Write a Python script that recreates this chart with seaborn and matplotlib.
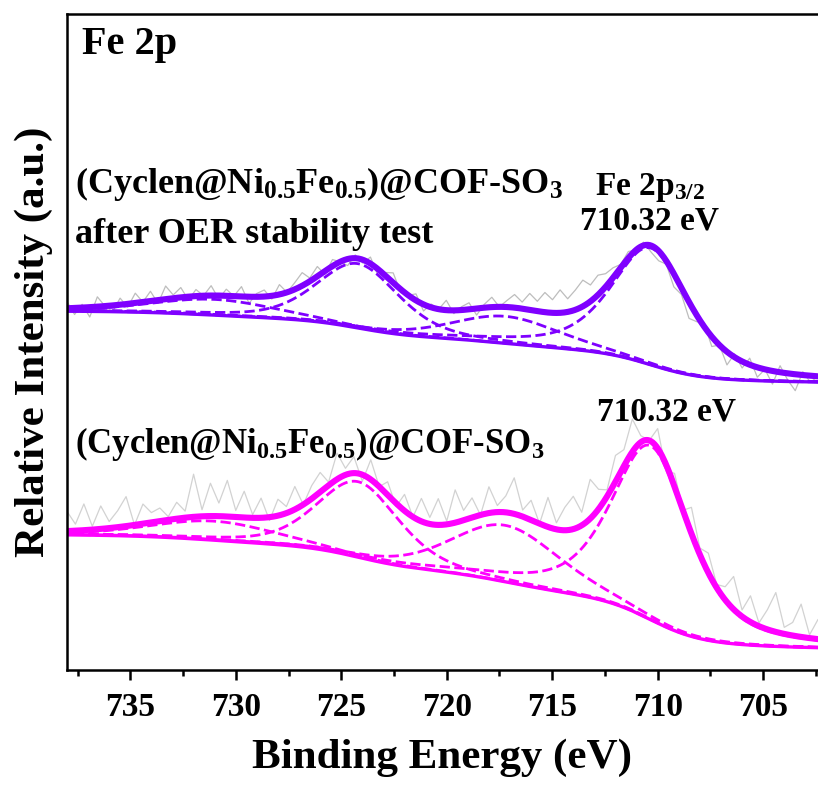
import numpy as np
import matplotlib
matplotlib.use('Agg')
import matplotlib.pyplot as plt
from matplotlib.ticker import AutoMinorLocator
import seaborn as sns

# --- Fe 2p peak fit (binding energy in eV) ---
# components: Fe 2p3/2, satellite, Fe 2p1/2, satellite
peak_centers = [710.32, 717.2, 724.2, 731.0]
peak_fwhm = [4.4, 6.0, 4.6, 7.0]
peak_mix = [0.6, 0.3, 0.4, 0.3]  # lorentzian fraction

# heights above background (arbitrary units, 0-100 frame)
fresh_heights = [26.5, 8.6, 11.5, 2.9]
after_heights = [17.8, 4.1, 9.8, 2.4]

# background level at low-BE end and high-BE end
fresh_bg = [3.4, 20.6]
after_bg = [43.9, 54.7]

# residual of the raw counts around the fit (estimated, high BE -> low BE)
fresh_resid = [3, 1, 4, 0.5, 3.5, 1, 2.5, 4.5, 0, 3,
               1.5, 2, 0.5, 2.5, 1, 6.5, 1, 5, 2, 5.5,
               1, 4, 0.5, 3, -0.5, 2.5, 1, 3.5, 0, 2,
               3, 0.5, 4, 1, 2.5, -1, 3, 0, 2, -0.5,
               2.5, 0, 3.5, 1, 4, 0.5, 5, 1.5, 3, 0,
               4, 1, 2.5, 5.5, 1, 3, 0, 4.5, 1, 3.5,
               5, 2, 6, 3, 1, 4, 2.5, 5, 1, 0,
               3, -1, 2, 0, 4, 1, 3, 0.5, 2, 5,
               1, 4, 0.5, 3, 6, 1, 2, 5, 0.5, 3]
after_resid = [1, -1, 0.5, -1.5, 1.5, 0, -1, 1, -0.5, 1.5,
               0, 1.5, -0.5, 2, 0.5, 1.5, -0.5, 1, 0, 1.5,
               -0.5, 1, 0, 1.5, -1, 0.5, 1, -0.5, 1.5, 0,
               1, 2, 0.5, 1.5, -0.5, 1, 0, -1, 0.5, -0.5,
               1, -1, 0.5, 1.5, -0.5, 0, 1, -1, 0.5, 0,
               1.5, -0.5, 0.5, 1, -1, 0.5, 1.5, 0, 1, 2,
               1, 2.5, 1.5, 3, 2, 3.5, 2, 3, 4, 2.5,
               3, 2, 1.5, 0.5, 1, 0, 0.5, -1, -1.5, -0.5,
               -2, -1, -2.5, -1, 0.5, -1.5, 0, -2, 0.5, -1,
               1, -1.5, 0, -2, 1, -1, -2.5, 0.5, -1, 0]

x_ticks = [735, 730, 725, 720, 715, 710, 705]
x_range = [738.0, 702.4]

color_after = '#7f00ff'
color_fresh = '#ff00ff'


def pseudo_voigt(e, c, fwhm, eta):
    hw = fwhm / 2.0
    g = np.exp(-np.log(2) * ((e - c) / hw) ** 2)
    l = 1.0 / (1.0 + ((e - c) / hw) ** 2)
    return eta * l + (1 - eta) * g


def build_fit(e, heights, bg):
    comps = [h * pseudo_voigt(e, c, w, m)
             for h, c, w, m in zip(heights, peak_centers, peak_fwhm, peak_mix)]
    total = np.sum(comps, axis=0)
    # Shirley-type background: rises with integrated peak area from low BE
    order = np.argsort(e)
    cum = np.zeros_like(e)
    es, ts = e[order], total[order]
    cum_sorted = np.concatenate([[0], np.cumsum(0.5 * (ts[1:] + ts[:-1]) * np.diff(es))])
    cum[order] = cum_sorted
    back = bg[0] + (bg[1] - bg[0]) * cum / cum_sorted[-1]
    return back, comps


grid = np.linspace(x_range[1], x_range[0], 800)

sns.set_style('ticks')
plt.rcParams['font.family'] = ['Liberation Serif', 'DejaVu Serif']
plt.rcParams['font.weight'] = 'bold'
plt.rcParams['mathtext.fontset'] = 'custom'
plt.rcParams['mathtext.rm'] = 'Liberation Serif:bold'
plt.rcParams['mathtext.bf'] = 'Liberation Serif:bold'
plt.rcParams['mathtext.it'] = 'Liberation Serif:bold:italic'
plt.rcParams['text.color'] = 'black'
plt.rcParams['axes.labelcolor'] = 'black'
plt.rcParams['xtick.color'] = 'black'

fig = plt.figure(figsize=(8.18, 7.85), dpi=100)
ax = fig.add_axes([67 / 818, 115 / 785, 751 / 818, 656 / 785])

for heights, bg, resid, col, gray in [(after_heights, after_bg, after_resid, color_after, '#bdbdbd'),
                                      (fresh_heights, fresh_bg, fresh_resid, color_fresh, '#d2d2d2')]:
    back, comps = build_fit(grid, heights, bg)
    envelope = back + np.sum(comps, axis=0)
    # raw spectrum = fit + residual
    e_raw = np.linspace(x_range[0], x_range[1], len(resid))
    raw = np.interp(e_raw, grid, envelope) + np.array(resid)
    sns.lineplot(x=e_raw, y=raw, ax=ax, color=gray, lw=0.9, sort=False)
    sns.lineplot(x=grid, y=back, ax=ax, color=col, lw=2.4, sort=False)
    for comp in comps:
        sns.lineplot(x=grid, y=back + comp, ax=ax, color=col, lw=2.0,
                     linestyle='--', sort=False)
    sns.lineplot(x=grid, y=envelope, ax=ax, color=col, lw=4.4, sort=False)

ax.set_xlim(x_range[0], x_range[1])
ax.set_ylim(0, 100)
ax.set_xticks(x_ticks)
ax.xaxis.set_minor_locator(AutoMinorLocator(2))
ax.set_yticks([])
ax.tick_params(axis='x', which='major', length=7, width=1.8, labelsize=24, pad=9)
ax.tick_params(axis='x', which='minor', length=4, width=1.8)
for lab in ax.get_xticklabels():
    lab.set_fontweight('bold')
for side in ['left', 'top', 'bottom']:
    ax.spines[side].set_linewidth(1.8)
    ax.spines[side].set_color('black')
ax.spines['right'].set_visible(False)

ax.set_xlabel('Binding Energy (eV)', fontsize=31, fontweight='bold', labelpad=11)
ax.set_ylabel('Relative Intensity (a.u.)', fontsize=31, fontweight='bold', labelpad=10)

ax.text(737.3, 95.3, 'Fe 2p', fontsize=29, fontweight='bold', va='center', ha='left')
ax.text(737.6, 72.7, '(Cyclen@Ni$_{0.5}$Fe$_{0.5}$)@COF-SO$_{3}$', fontsize=26,
        fontweight='bold', ha='left', va='baseline')
ax.text(737.6, 65.1, 'after OER stability test', fontsize=26, fontweight='bold',
        ha='left', va='baseline')
ax.text(737.6, 33.1, '(Cyclen@Ni$_{0.5}$Fe$_{0.5}$)@COF-SO$_{3}$', fontsize=25,
        fontweight='bold', ha='left', va='baseline')
ax.text(710.37, 72.4, 'Fe 2p$_{3/2}$', fontsize=24, fontweight='bold',
        ha='center', va='baseline')
ax.text(710.37, 67.2, '710.32 eV', fontsize=24, fontweight='bold',
        ha='center', va='baseline')
ax.text(709.56, 38.1, '710.32 eV', fontsize=24, fontweight='bold',
        ha='center', va='baseline')

fig.savefig('out.png', dpi=100)
